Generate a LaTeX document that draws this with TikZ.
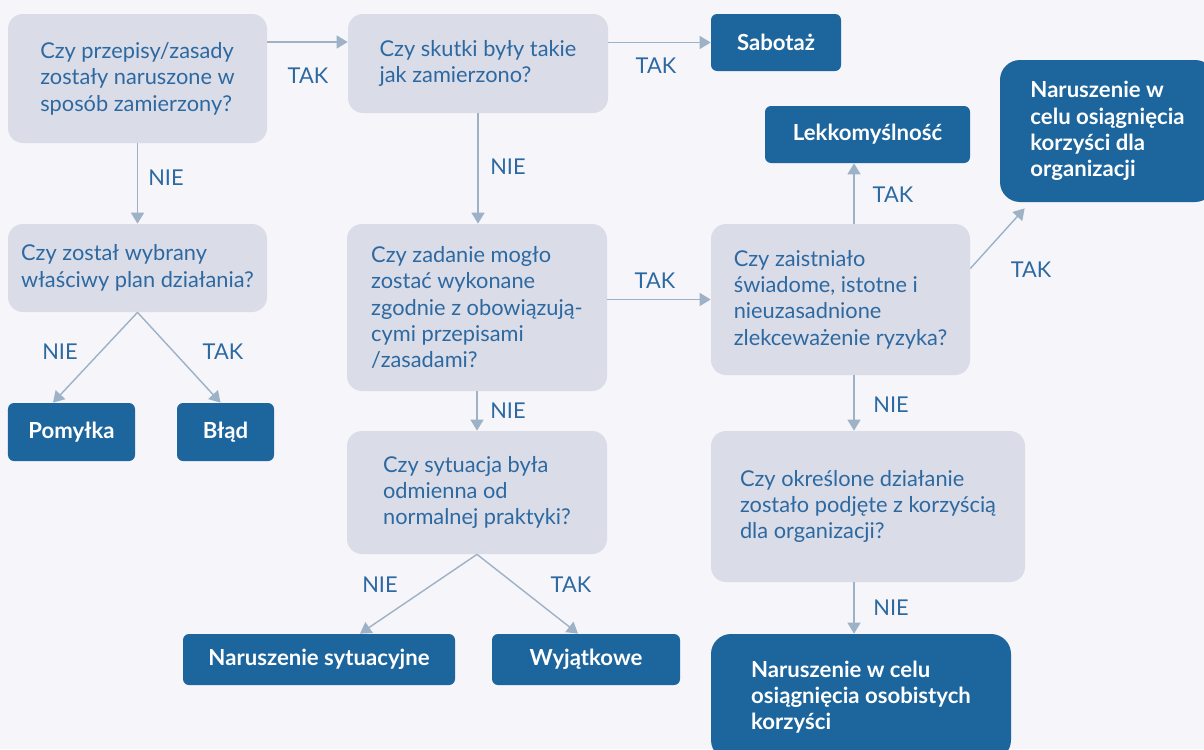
\documentclass[tikz,border=0pt]{standalone}
\usepackage{fontspec}
\setmainfont{Lato}
\usetikzlibrary{arrows.meta, positioning}
\definecolor{bgc}{HTML}{F5F5FA}
\definecolor{boxgrey}{HTML}{DADCE8}
\definecolor{txtblue}{HTML}{2D69A1}
\definecolor{resblue}{HTML}{1C659D}
\definecolor{arrowc}{HTML}{9DB2C7}

\begin{document}
\begin{tikzpicture}[>={Triangle[length=0.22cm,width=0.26cm]},
	every node/.style={font=\fontsize{12.4}{15}\selectfont}]
	\tikzstyle{ask}=[fill=boxgrey, text=txtblue, rounded corners=0.3cm, align=left, inner sep=0pt]
	\tikzstyle{res}=[fill=resblue, text=white, font=\bfseries\fontsize{12.6}{15}\selectfont,
		rounded corners=0.12cm, align=left, inner sep=0pt]
	\tikzstyle{lbl}=[text=txtblue]
	\tikzstyle{arr}=[->, draw=arrowc, line width=0.8pt]

	\fill[bgc] (0,0) rectangle (24.08,-14.98);
	\useasboundingbox (0,0) rectangle (24.08,-14.98);

	% questions
	\node[ask, minimum width=5.18cm, minimum height=2.58cm] (q1) at (2.75,-1.57)
		{Czy przepisy/zasady\\zostały naruszone w\\sposób zamierzony?};
	\node[ask, minimum width=5.2cm, minimum height=1.98cm] (q2) at (9.56,-1.27)
		{Czy skutki były takie\\jak zamierzono?};
	\node[ask, minimum width=5.18cm, minimum height=1.76cm] (q3) at (2.75,-5.36)
		{Czy został wybrany\\właściwy plan działania?};
	\node[ask, minimum width=5.2cm, minimum height=3.34cm] (q4) at (9.54,-6.15)
		{Czy zadanie mogło\\zostać wykonane\\zgodnie z obowiązują-\\cymi przepisami\\/zasadami?};
	\node[ask, minimum width=5.18cm, minimum height=3.02cm] (q5) at (16.81,-5.99)
		{Czy zaistniało\\świadome, istotne i\\nieuzasadnione\\zlekceważenie ryzyka?};
	\node[ask, minimum width=5.2cm, minimum height=2.46cm] (q6) at (9.54,-9.85)
		{Czy sytuacja była\\odmienna od\\normalnej praktyki?};
	\node[ask, minimum width=6.28cm, minimum height=3.02cm] (q7) at (17.36,-10.13)
		{Czy określone działanie\\zostało podjęte z korzyścią\\dla organizacji?};

	% results
	\node[res, minimum width=2.6cm, minimum height=1.14cm] (sab) at (15.52,-0.85) {Sabotaż};
	\node[res, minimum width=4.1cm, minimum height=1.14cm] (lek) at (17.35,-2.69) {Lekkomyślność};
	\node[res, minimum width=4.3cm, minimum height=2.84cm, rounded corners=0.4cm] (org) at (22.15,-2.62)
		{Naruszenie w\\celu osiągnięcia\\korzyści dla\\organizacji};
	\node[res, minimum width=2.54cm, minimum height=1.16cm] (pom) at (1.43,-8.64) {Pomyłka};
	\node[res, minimum width=1.94cm, minimum height=1.16cm] (bla) at (4.51,-8.64) {Błąd};
	\node[res, minimum width=5.44cm, minimum height=1.02cm] (syt) at (6.38,-13.19) {Naruszenie sytuacyjne};
	\node[res, minimum width=3.76cm, minimum height=1.02cm] (wyj) at (11.72,-13.19) {Wyjątkowe};
	\node[res, minimum width=6.0cm, minimum height=2.52cm, rounded corners=0.4cm] (oso) at (17.22,-13.94)
		{Naruszenie w celu\\osiągnięcia osobistych\\korzyści};

	% connectors
	\draw[arr] ([yshift=0.73cm]q1.east) -- ([yshift=0.73cm]q1.east -| q2.west);
	\draw[arr] (q2.east |- sab.west) -- (sab.west);
	\draw[arr] (q1.south) -- (q3.north);
	\draw[arr] (q3.south) -- ([xshift=-0.37cm]pom.north);
	\draw[arr] (q3.south) -- ([xshift=-0.1cm]bla.north);
	\draw[arr] (q2.south) -- (q2.south |- q4.north);
	\draw[arr] (q4.east |- q5.west) -- (q5.west);
	\draw[arr] (q4.south) -- (q6.north);
	\draw[arr] ([xshift=0.27cm]q5.north) -- ([xshift=0.27cm]q5.north |- lek.south);
	\draw[arr] ([yshift=0.62cm]q5.east) -- ([shift={(0.5cm,-0.12cm)}]org.south west);
	\draw[arr] ([xshift=0.27cm]q5.south) -- ([xshift=0.27cm]q5.south |- q7.north);
	\draw[arr] (q6.south) -- ([xshift=0.82cm]syt.north);
	\draw[arr] (q6.south) -- ([xshift=-0.16cm]wyj.north);
	\draw[arr] ([xshift=-0.28cm]q7.south) -- ([xshift=-0.28cm]q7.south |- oso.north);

	% labels
	\node[lbl] (l1) at (6.16,-1.52) {TAK};
	\node[lbl] (l2) at (13.12,-1.32) {TAK};
	\node[lbl] (l3) at (3.32,-3.56) {NIE};
	\node[lbl] (l4) at (1.2,-7.04) {NIE};
	\node[lbl] (l5) at (4.46,-7.04) {TAK};
	\node[lbl] (l6) at (10.16,-3.34) {NIE};
	\node[lbl] (l7) at (13.1,-5.62) {TAK};
	\node[lbl] (l8) at (10.16,-8.22) {NIE};
	\node[lbl] (l9) at (17.86,-3.9) {TAK};
	\node[lbl] (l10) at (20.62,-5.4) {TAK};
	\node[lbl] (l11) at (17.82,-8.1) {NIE};
	\node[lbl] (l12) at (7.6,-11.7) {NIE};
	\node[lbl] (l13) at (11.42,-11.7) {TAK};
	\node[lbl] (l14) at (17.82,-12.16) {NIE};
\end{tikzpicture}
\end{document}
